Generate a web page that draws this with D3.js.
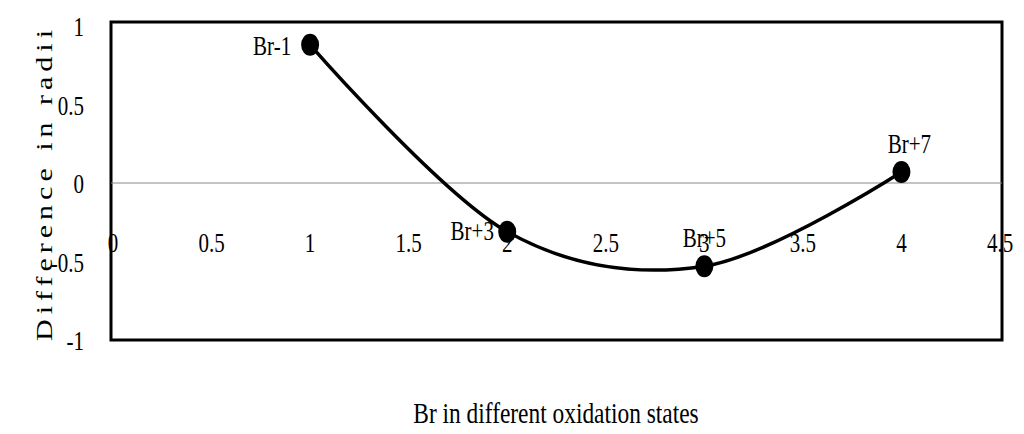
<!DOCTYPE html>
<html><head><meta charset="utf-8">
<script src="https://cdn.jsdelivr.net/npm/d3@7"></script>
<style>body{margin:0;background:#fff}</style>
</head><body>
<svg id="c" width="1024" height="434"></svg>
<script>
// data
var states = [1, 2, 3, 4];
var diffs = [0.88, -0.31, -0.53, 0.07];
var names = ["Br-1", "Br+3", "Br+5", "Br+7"];
var xTicks = [0, 0.5, 1, 1.5, 2, 2.5, 3, 3.5, 4, 4.5];
var yTicks = [-1, -0.5, 0, 0.5, 1];

var svg = d3.select("#c");
var font = "Liberation Serif";
var x = d3.scaleLinear().domain([0, 4.5]).range([113, 1000]);
var y = d3.scaleLinear().domain([-1, 1]).range([340, 26]);

//tall narrow text like the original
function tall(px, py, size, sx) {
    return svg.append("text")
        .attr("transform", "translate(" + px + "," + py + ") scale(" + (sx || 0.75) + ",1)")
        .attr("font-family", font).style("font-size", size + "px");
}

//frame
svg.append("rect").attr("x", 111).attr("y", 22).attr("width", 891).attr("height", 318)
    .attr("fill", "none").attr("stroke", "#000").attr("stroke-width", 3);

//zero line
svg.append("line").attr("x1", 111).attr("x2", 1002).attr("y1", y(0)).attr("y2", y(0))
    .attr("stroke", "#888").attr("stroke-width", 1);

//y tick labels
yTicks.forEach(function(d){
    tall(84, y(d) + 10, 28).attr("text-anchor", "end").text(d);
});

//x tick labels sit under the zero line
xTicks.forEach(function(d){
    tall(x(d), 252, 28).attr("text-anchor", "middle").text(d);
});

//smoothed line
var line = d3.line().x(function(d, i){ return x(states[i]); }).y(function(d){ return y(d); })
    .curve(d3.curveCardinal.tension(0));
svg.append("path").datum(diffs).attr("d", line)
    .attr("fill", "none").attr("stroke", "#000").attr("stroke-width", 3.5);

svg.selectAll(".pt").data(diffs).enter().append("ellipse")
    .attr("cx", function(d, i){ return x(states[i]); }).attr("cy", function(d){ return y(d); })
    .attr("rx", 9).attr("ry", 11).attr("fill", "#000");

//point labels
var lblDx = [-38, -35, 0, 8], lblDy = [10, 8, -19, -19];
diffs.forEach(function(d, i){
    tall(x(states[i]) + lblDx[i], y(d) + lblDy[i], 28).attr("text-anchor", "middle").text(names[i]);
});

//axis titles
tall(556, 423, 30, 0.78).attr("text-anchor", "middle").text("Br in different oxidation states");
svg.append("text").attr("transform", "translate(52,183) rotate(-90) scale(1,0.8)").attr("text-anchor", "middle")
    .attr("font-family", font).style("font-size", "30px").style("letter-spacing", "5px")
    .text("Difference in radii");
</script>
</body></html>
